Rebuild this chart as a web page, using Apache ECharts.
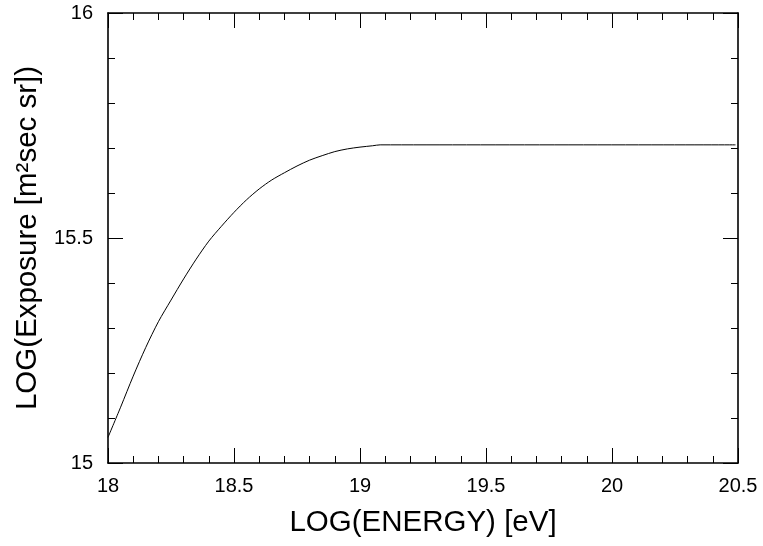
<!DOCTYPE html>
<html>
<head>
<meta charset="utf-8">
<script src="https://cdn.jsdelivr.net/npm/echarts@6/dist/echarts.min.js"></script>
<style>
  html, body { margin: 0; padding: 0; background: #ffffff; }
  #chart { width: 763px; height: 546px; }
</style>
</head>
<body>
<div id="chart"></div>
<script>
// Exposure curve: log10(energy / eV) against log10(exposure / m^2 sec sr)
const logEnergy = [
  18.00, 18.05, 18.10, 18.15, 18.20, 18.25, 18.30, 18.35,
  18.40, 18.45, 18.50, 18.55, 18.60, 18.65, 18.70, 18.75,
  18.80, 18.85, 18.90, 18.95, 19.00, 19.05, 19.08, 20.49
];
const logExposure = [
  15.057, 15.124, 15.193, 15.257, 15.314, 15.362, 15.409, 15.453,
  15.493, 15.526, 15.557, 15.585, 15.609, 15.629, 15.645, 15.660,
  15.673, 15.683, 15.692, 15.698, 15.702, 15.705, 15.707, 15.707
];

// Labelled ticks on each axis
const xTickLabels = ['18', '18.5', '19', '19.5', '20', '20.5'];
const yTickLabels = ['15', '15.5', '16'];

const FONT = "'Liberation Sans', Arial, Helvetica, sans-serif";
const INK = '#000000';

function labelFor(list) {
  return function (v) {
    const hit = list.find(s => Math.abs(parseFloat(s) - v) < 1e-6);
    return hit !== undefined ? hit : '';
  };
}

function frameAxis(extra) {
  return Object.assign({
    type: 'value',
    axisLine: { show: true, onZero: false, lineStyle: { color: INK, width: 1.6 } },
    axisTick: { show: true, inside: true, length: 15, lineStyle: { color: INK, width: 1 } },
    minorTick: { show: true, splitNumber: 5, length: 7, lineStyle: { color: INK, width: 1 } },
    splitLine: { show: false },
    minorSplitLine: { show: false }
  }, extra);
}

const chart = echarts.init(document.getElementById('chart'), null, { renderer: 'canvas' });

chart.setOption({
  animation: false,
  backgroundColor: '#ffffff',
  grid: { left: 108, right: 25, top: 13, bottom: 83, containLabel: false },
  xAxis: [
    frameAxis({
      position: 'bottom', min: 18, max: 20.5, interval: 0.5,
      name: 'LOG(ENERGY) [eV]', nameLocation: 'middle', nameGap: 45,
      nameTextStyle: { fontFamily: FONT, fontSize: 29.5, color: INK },
      axisLabel: { show: true, margin: 13, fontFamily: FONT, fontSize: 20, color: INK,
                   formatter: labelFor(xTickLabels) }
    }),
    frameAxis({
      position: 'top', min: 18, max: 20.5, interval: 0.5,
      axisLabel: { show: false }
    })
  ],
  yAxis: [
    frameAxis({
      position: 'left', min: 15, max: 16, interval: 0.5,
      name: 'LOG(Exposure [m\u00B2sec sr])', nameLocation: 'middle', nameGap: 63,
      nameTextStyle: { fontFamily: FONT, fontSize: 29.5, color: INK },
      axisLabel: { show: true, margin: 15, fontFamily: FONT, fontSize: 20, color: INK,
                   formatter: labelFor(yTickLabels) }
    }),
    frameAxis({
      position: 'right', min: 15, max: 16, interval: 0.5,
      axisLabel: { show: false }
    })
  ],
  series: [{
    type: 'line',
    xAxisIndex: 0,
    yAxisIndex: 0,
    data: logEnergy.map((e, i) => [e, logExposure[i]]),
    smooth: 0.3,
    showSymbol: false,
    lineStyle: { color: INK, width: 1 },
    emphasis: { disabled: true }
  }]
});
</script>
</body>
</html>
